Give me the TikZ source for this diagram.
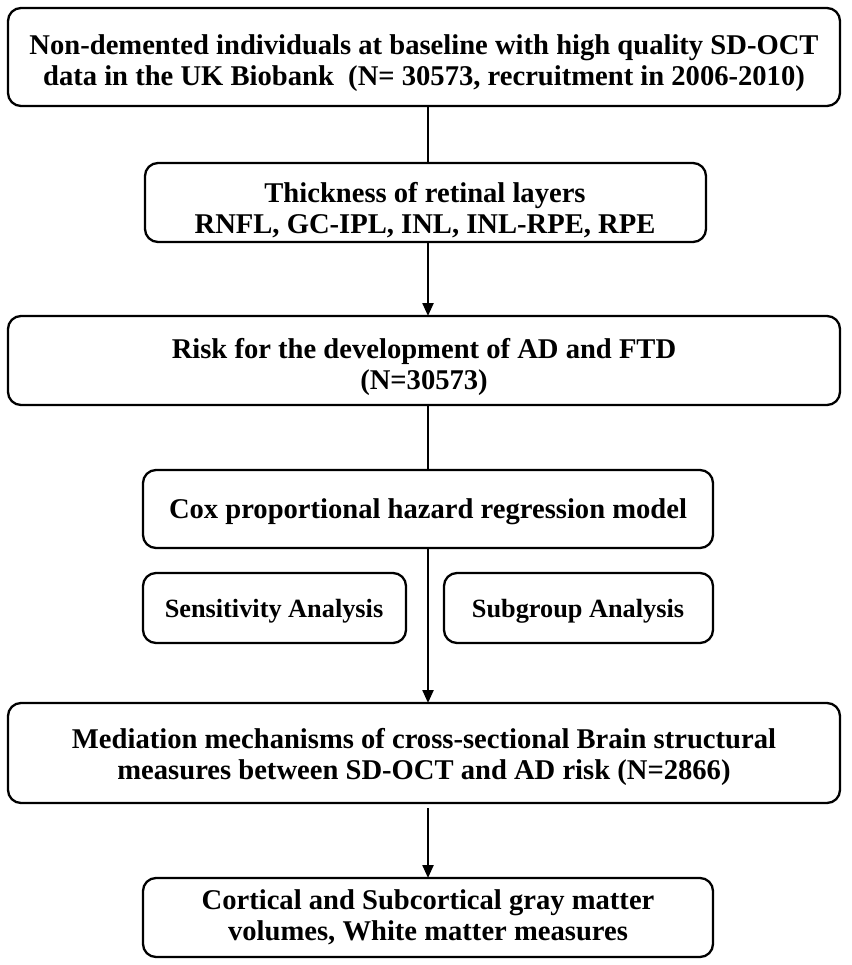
\documentclass[tikz,border=0pt]{standalone}
\usepackage{fontspec}
\setmainfont{Liberation Serif}
\usetikzlibrary{arrows.meta}
\begin{document}
\begin{tikzpicture}[x=1pt,y=-1pt,
  flowbox/.style={draw=black,line width=2.3pt,rounded corners=13pt,fill=white},
  flowtext/.style={align=center,font=\bfseries\fontsize{28.6}{31}\selectfont,inner sep=0pt},
  smalltext/.style={flowtext,font=\bfseries\fontsize{26.3}{30}\selectfont},
  conn/.style={line width=2.3pt,draw=black},
  arr/.style={conn,-{Triangle[length=13pt,width=11pt]}}]
\useasboundingbox (0,0) rectangle (851,965);
% boxes
\draw[flowbox] (8,8) rectangle (840,106);
\node[flowtext] (t1) at (424,63) {Non-demented individuals at baseline with high quality SD-OCT\\data in the UK Biobank\ \ (N= 30573, recruitment in 2006-2010)};
\draw[flowbox] (145,163) rectangle (706,242);
\node[flowtext] (t2) at (425,210) {Thickness of retinal layers\\RNFL, GC-IPL, INL, INL-RPE, RPE};
\draw[flowbox] (8,316) rectangle (840,405);
\node[flowtext] (t3) at (424,367) {Risk for the development of AD and FTD\\(N=30573)};
\draw[flowbox] (143,470) rectangle (713,548);
\node[flowtext] (t4) at (428,512) {Cox proportional hazard regression model};
\draw[flowbox] (143,573) rectangle (406,643);
\node[smalltext] (t5) at (274,611) {Sensitivity Analysis};
\draw[flowbox] (444,573) rectangle (713,643);
\node[smalltext] (t6) at (578,611) {Subgroup Analysis};
\draw[flowbox] (8,703) rectangle (840,803);
\node[flowtext] (t7) at (424,757) {Mediation mechanisms of cross-sectional Brain structural\\measures between SD-OCT and AD risk (N=2866)};
\draw[flowbox] (143,878) rectangle (713,957);
\node[flowtext] (t8) at (428,917) {Cortical and Subcortical gray matter\\volumes, White matter measures};
% connectors
\coordinate (a1) at (428,106); \coordinate (b1) at (428,163);
\coordinate (a2) at (428,242); \coordinate (b2) at (428,316);
\coordinate (a3) at (428,405); \coordinate (b3) at (428,470);
\coordinate (a4) at (428,548); \coordinate (b4) at (428,703);
\coordinate (a5) at (428,808); \coordinate (b5) at (428,878);
\draw[conn] (a1) -- (b1);
\draw[arr] (a2) -- (b2);
\draw[conn] (a3) -- (b3);
\draw[arr] (a4) -- (b4);
\draw[arr] (a5) -- (b5);
\end{tikzpicture}
\end{document}
